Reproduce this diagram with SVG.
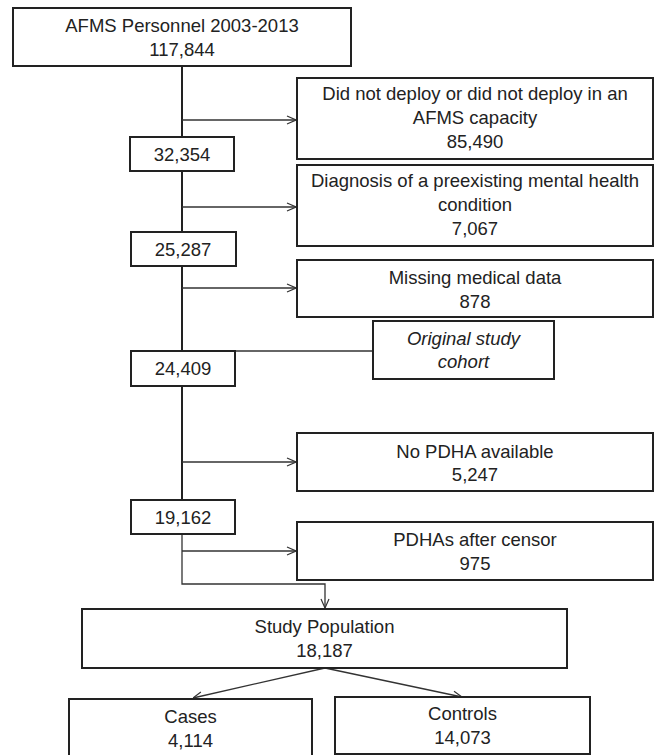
<svg xmlns="http://www.w3.org/2000/svg" width="658" height="755" viewBox="0 0 658 755">
<defs>
<marker id="arr" viewBox="0 0 10 10" refX="10" refY="5" markerWidth="10" markerHeight="10" markerUnits="userSpaceOnUse" orient="auto">
<polyline points="1,1 10,5 1,9" fill="none" stroke="#333" stroke-width="1.2"/>
</marker>
<style>
.box{fill:#fff;stroke:#222;stroke-width:2}
.t{font-family:"Liberation Sans",Arial,sans-serif;font-size:18.5px;fill:#222;text-anchor:middle}
.i{font-style:italic}
.main{stroke:#222;stroke-width:2;fill:none}
.thin{stroke:#333;stroke-width:1.3;fill:none}
</style>
</defs>
<rect width="658" height="755" fill="#fff"/>
<g id="connectors">
<line class="main" x1="182" y1="66" x2="182" y2="137"/>
<line class="main" x1="182" y1="171" x2="182" y2="232"/>
<line class="main" x1="182" y1="266" x2="182" y2="351"/>
<line class="main" x1="182" y1="386" x2="182" y2="500"/>
<polyline class="thin" points="182,534 182,584 325,584 325,608" marker-end="url(#arr)"/>
<line class="thin" x1="182" y1="120" x2="296" y2="120" marker-end="url(#arr)"/>
<line class="thin" x1="182" y1="207" x2="296" y2="207" marker-end="url(#arr)"/>
<line class="thin" x1="182" y1="288" x2="296" y2="288" marker-end="url(#arr)"/>
<line class="thin" x1="235" y1="351" x2="373" y2="351"/>
<line class="thin" x1="182" y1="462" x2="296" y2="462" marker-end="url(#arr)"/>
<line class="thin" x1="182" y1="551" x2="296" y2="551" marker-end="url(#arr)"/>
<line class="thin" x1="325" y1="668" x2="193" y2="698" marker-end="url(#arr)"/>
<line class="thin" x1="325" y1="668" x2="462" y2="697" marker-end="url(#arr)"/>
</g>
<g id="n-afms">
<rect class="box" x="13" y="8" width="338" height="58"/>
<text class="t" x="182" y="32">AFMS Personnel 2003-2013</text>
<text class="t" x="182" y="56">117,844</text>
</g>
<g id="n-nodeploy">
<rect class="box" x="297" y="78" width="356" height="81"/>
<text class="t" x="475" y="100">Did not deploy or did not deploy in an</text>
<text class="t" x="475" y="124">AFMS capacity</text>
<text class="t" x="475" y="148">85,490</text>
</g>
<g id="n-32354">
<rect class="box" x="130" y="137" width="104" height="34"/>
<text class="t" x="182" y="160.5">32,354</text>
</g>
<g id="n-diagnosis">
<rect class="box" x="297" y="165" width="356" height="81"/>
<text class="t" x="475" y="187">Diagnosis of a preexisting mental health</text>
<text class="t" x="475" y="211">condition</text>
<text class="t" x="475" y="235">7,067</text>
</g>
<g id="n-25287">
<rect class="box" x="131" y="232" width="105" height="34"/>
<text class="t" x="183" y="255.5">25,287</text>
</g>
<g id="n-missing">
<rect class="box" x="297" y="260" width="356" height="57"/>
<text class="t" x="475" y="284">Missing medical data</text>
<text class="t" x="475" y="308">878</text>
</g>
<g id="n-cohort">
<rect class="box" x="373" y="321" width="181" height="58"/>
<text class="t i" x="463.5" y="345">Original study</text>
<text class="t i" x="463.5" y="368">cohort</text>
</g>
<g id="n-24409">
<rect class="box" x="131" y="351" width="104" height="35"/>
<text class="t" x="183" y="374.5">24,409</text>
</g>
<g id="n-nopdha">
<rect class="box" x="297" y="433" width="356" height="58"/>
<text class="t" x="475" y="458">No PDHA available</text>
<text class="t" x="475" y="481">5,247</text>
</g>
<g id="n-19162">
<rect class="box" x="131" y="500" width="104" height="34"/>
<text class="t" x="183" y="523.5">19,162</text>
</g>
<g id="n-censor">
<rect class="box" x="297" y="522" width="356" height="58"/>
<text class="t" x="475" y="546">PDHAs after censor</text>
<text class="t" x="475" y="570">975</text>
</g>
<g id="n-study">
<rect class="box" x="82" y="609" width="485" height="59"/>
<text class="t" x="324.5" y="633">Study Population</text>
<text class="t" x="324.5" y="657">18,187</text>
</g>
<g id="n-cases">
<rect class="box" x="69" y="699" width="243" height="60"/>
<text class="t" x="190.5" y="723">Cases</text>
<text class="t" x="190.5" y="747">4,114</text>
</g>
<g id="n-controls">
<rect class="box" x="335" y="697" width="255" height="57"/>
<text class="t" x="462.5" y="720">Controls</text>
<text class="t" x="462.5" y="744">14,073</text>
</g>
</svg>
